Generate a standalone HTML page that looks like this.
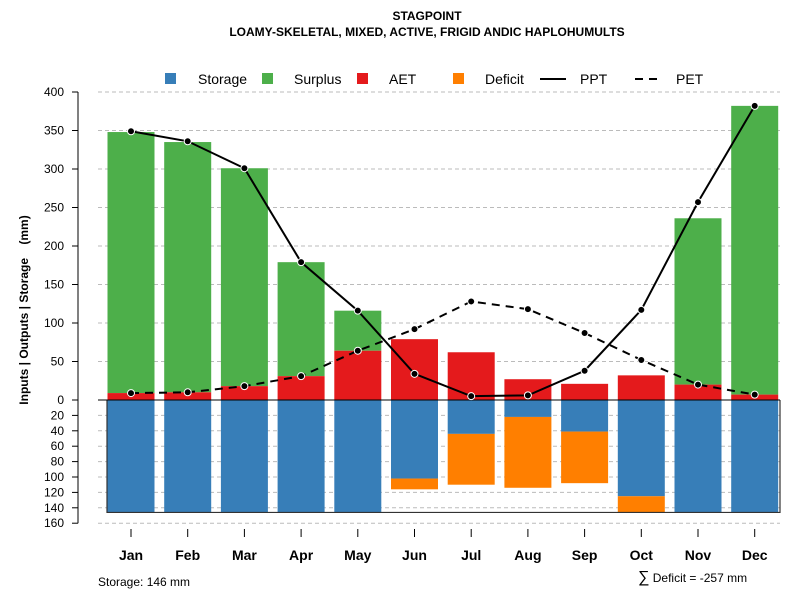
<!DOCTYPE html>
<html><head><meta charset="utf-8"><style>
body{margin:0;background:#fff}
svg{font-family:"Liberation Sans",sans-serif;display:block}
</style></head><body>
<svg id="c" width="800" height="600">
<text x="427" y="20" font-size="12" font-weight="bold" text-anchor="middle">STAGPOINT</text>
<text x="427" y="36" font-size="12" font-weight="bold" text-anchor="middle">LOAMY-SKELETAL, MIXED, ACTIVE, FRIGID ANDIC HAPLOHUMULTS</text>
<g id="grid"></g><g id="bars"></g><g id="lines"></g><g id="axes"></g>
<g font-size="14">
<rect x="165" y="73" width="11" height="11" fill="#377EB8"/><text x="198" y="84">Storage</text>
<rect x="262" y="73" width="11" height="11" fill="#4DAF4A"/><text x="294" y="84">Surplus</text>
<rect x="357" y="73" width="11" height="11" fill="#E41A1C"/><text x="389" y="84">AET</text>
<rect x="453" y="73" width="11" height="11" fill="#FF7F00"/><text x="485" y="84">Deficit</text>
<line x1="540" y1="79" x2="566" y2="79" stroke="#000" stroke-width="2"/><text x="580" y="84">PPT</text>
<line x1="635" y1="79" x2="663" y2="79" stroke="#000" stroke-width="2" stroke-dasharray="8,6"/><text x="676" y="84">PET</text>
</g>
<text x="98" y="586" font-size="12">Storage: 146 mm</text>
<text x="638" y="582" font-size="12"><tspan font-size="16">∑</tspan> Deficit = -257 mm</text>
<text transform="translate(28,310) rotate(-90)" font-size="12" font-weight="bold" text-anchor="middle" xml:space="preserve">Inputs | Outputs | Storage    (mm)</text>
</svg>
<script>
const months=["Jan","Feb","Mar","Apr","May","Jun","Jul","Aug","Sep","Oct","Nov","Dec"];
const ppt=[349,336,301,179,116,34,5,6,38,117,257,382];
const pet=[9,10,18,31,64,92,128,118,87,52,20,7];
const aet=[9,10,18,31,64,79,62,27,21,32,20,7];
const surplusTop=[348,335,301,179,116,0,0,0,0,0,236,382];
const storage=[146,146,146,146,146,102,44,22,41,125,146,146];
const deficitBottom=[146,146,146,146,146,116,110,114,108,146,146,146];
const upperTicks=[0,50,100,150,200,250,300,350,400];
const lowerTicks=[20,40,60,80,100,120,140,160];
const NS="http://www.w3.org/2000/svg";
const k=0.77,y0=400;
const yU=v=>y0-v*k, yL=v=>y0+v*k;
const xC=i=>131+i*56.7, bw=47;
function mk(p,t,a){const e=document.createElementNS(NS,t);for(const n in a)e.setAttribute(n,a[n]);document.getElementById(p).appendChild(e);return e;}
upperTicks.forEach(v=>{if(v>0){const l=mk('grid','line',{x1:98,x2:780,y1:yU(v),y2:yU(v),stroke:'#bbb','stroke-dasharray':'4,3'});}
 const t=mk('axes','text',{x:64,y:yU(v)+4,'font-size':12,'text-anchor':'end'});t.textContent=v;
 mk('axes','line',{x1:72,x2:78,y1:yU(v),y2:yU(v),stroke:'#000'});});
lowerTicks.forEach(v=>{const l=mk('grid','line',{x1:98,x2:780,y1:yL(v),y2:yL(v),stroke:'#bbb','stroke-dasharray':'4,3'});
 const t=mk('axes','text',{x:64,y:yL(v)+4,'font-size':12,'text-anchor':'end'});t.textContent=v;
 mk('axes','line',{x1:72,x2:78,y1:yL(v),y2:yL(v),stroke:'#000'});});
mk('axes','line',{x1:78,x2:78,y1:yU(400),y2:yL(160),stroke:'#000'});
months.forEach((m,i)=>{const x=xC(i)-bw/2;
 if(surplusTop[i]>0){const r=mk('bars','rect',{x:x,y:yU(surplusTop[i]),width:bw,height:(surplusTop[i]-aet[i])*k,fill:'#4DAF4A'});}
 const a=mk('bars','rect',{x:x,y:yU(aet[i]),width:bw,height:aet[i]*k,fill:'#E41A1C'});
 const s=mk('bars','rect',{x:x,y:y0,width:bw,height:storage[i]*k,fill:'#377EB8'});
 if(deficitBottom[i]>storage[i]){const d=mk('bars','rect',{x:x,y:yL(storage[i]),width:bw,height:(deficitBottom[i]-storage[i])*k,fill:'#FF7F00'});}
 mk('axes','line',{x1:xC(i),x2:xC(i),y1:529,y2:537,stroke:'#000'});
 const t=mk('axes','text',{x:xC(i),y:560,'font-size':14,'font-weight':'bold','text-anchor':'middle'});t.textContent=m;});
const sb=mk('bars','path',{d:`M107,${y0} V${yL(146)} H780 V${y0}`,fill:'none',stroke:'#333','stroke-width':1.2});

const z=mk('bars','line',{x1:98,x2:780,y1:y0,y2:y0,stroke:'#000'});
function series(vals,name,dash){const p=mk('lines','polyline',{points:vals.map((v,i)=>xC(i)+','+yU(v)).join(' '),fill:'none',stroke:'#000','stroke-width':2,'stroke-dasharray':dash});
 
 vals.forEach((v,i)=>{const c=mk('lines','circle',{cx:xC(i),cy:yU(v),r:3.5,fill:'#000',stroke:'#fff','stroke-width':1});});}
series(pet,'pet','8,6');series(ppt,'ppt','none');
</script>
</body></html>
